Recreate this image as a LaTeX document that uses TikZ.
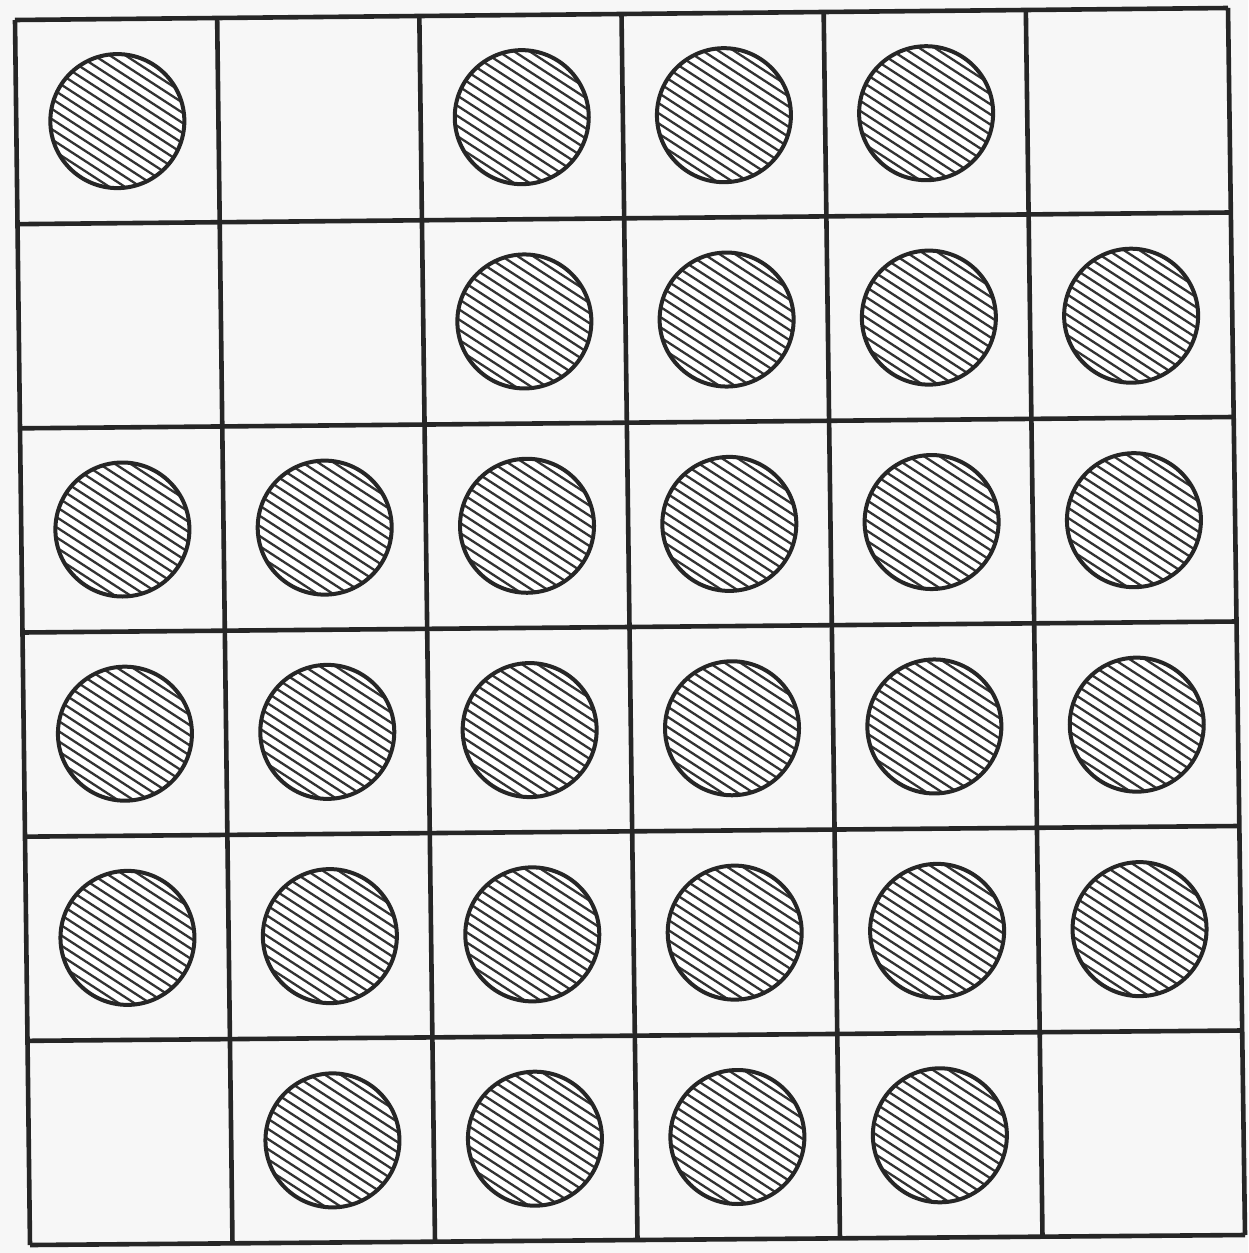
\documentclass[tikz,border=0pt]{standalone}
\usetikzlibrary{calc}
\begin{document}
\begin{tikzpicture}[x=1pt,y=-1pt,
  gridline/.style={line width=4.6pt,draw=black!85},
  disc/.style={line width=4pt,draw=black!85},
  hatch/.style={line width=2.3pt,draw=black!80}]
\fill[black!3] (0,0) rectangle (1248,1253);
\useasboundingbox (0,0) rectangle (1248,1253);
% grid points (bilinear between the four corners)
\foreach \i in {0,...,6}{\foreach \j in {0,...,6}{
  \pgfmathsetmacro\u{\i/6}\pgfmathsetmacro\v{\j/6}
  \pgfmathsetmacro\px{(1-\u)*(1-\v)*15+\u*(1-\v)*1228+(1-\u)*\v*30+\u*\v*1245}
  \pgfmathsetmacro\py{(1-\u)*(1-\v)*20+\u*(1-\v)*8+(1-\u)*\v*1245+\u*\v*1235}
  \coordinate (g-\i-\j) at (\px,\py);
}}
\foreach \i in {0,...,6}{\draw[gridline] (g-\i-0) -- (g-\i-6);}
\foreach \j in {0,...,6}{\draw[gridline] (g-0-\j) -- (g-6-\j);}
% circles: row j, column i
\foreach \j/\row in {0/{1,0,1,1,1,0},1/{0,0,1,1,1,1},2/{1,1,1,1,1,1},3/{1,1,1,1,1,1},4/{1,1,1,1,1,1},5/{0,1,1,1,1,0}}{
  \foreach \f [count=\c from 0] in \row{
    \ifnum\f=1
      \pgfmathtruncatemacro\ci{\c+1}\pgfmathtruncatemacro\cj{\j+1}
      \coordinate (c-\c-\j) at ($(g-\c-\j)!0.5!(g-\ci-\cj)$);
      \begin{scope}
        \fill[white] (c-\c-\j) circle (67);
        \clip (c-\c-\j) circle (67);
        \begin{scope}[shift={(c-\c-\j)},rotate=-33]
          \foreach \k in {-9,...,9}{\draw[hatch] (-90,\k*8.5) -- (90,\k*8.5);}
        \end{scope}
      \end{scope}
      \draw[disc] (c-\c-\j) circle (67);
    \fi
  }
}
\end{tikzpicture}
\end{document}
